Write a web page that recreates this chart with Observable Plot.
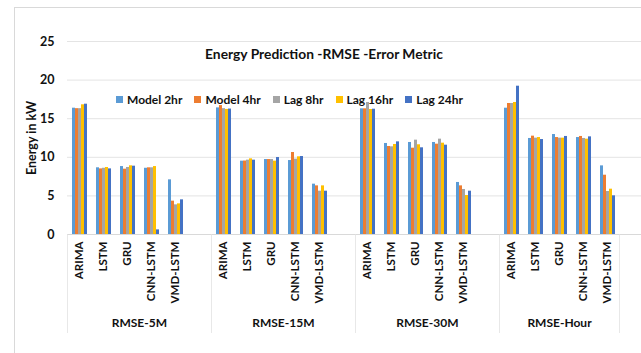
<!DOCTYPE html>
<html><head><meta charset="utf-8">
<script src="https://cdn.jsdelivr.net/npm/d3@7"></script>
<script src="https://cdn.jsdelivr.net/npm/@observablehq/plot@0.6"></script>
<style>
html,body{margin:0;padding:0;background:#fff;overflow:hidden}
#wrap{position:relative;width:641px;height:353px;overflow:hidden;font-family:Lato,sans-serif;background:#fff}
#border{position:absolute;left:14px;top:7px;width:700px;height:400px;border:1px solid #d9d9d9}
#chart{position:absolute;left:0;top:0}
#title{position:absolute;left:0;width:648px;top:45px;text-align:center;font-weight:bold;font-size:13.8px;color:#111;white-space:nowrap}
#legend{position:absolute;left:116px;top:92px}
.leg-swatches{font-family:Lato,sans-serif;font-weight:bold;font-size:12px;color:#111;display:flex;flex-wrap:nowrap;min-height:0;margin:0}
.leg-swatch{margin-right:12px !important;display:inline-flex;align-items:center}
.leg-swatch > svg{margin-right:4px !important}
</style></head>
<body>
<div id="wrap">
  <div id="border"></div>
  <div id="chart"></div>
  <div id="title">Energy Prediction -RMSE -Error Metric</div>
  <div id="legend"></div>
</div>
<script>
const groups = ["RMSE-5M", "RMSE-15M", "RMSE-30M", "RMSE-Hour"];
const models = ["ARIMA", "LSTM", "GRU", "CNN-LSTM", "VMD-LSTM"];
const series = ["Model 2hr", "Model 4hr", "Lag 8hr", "Lag 16hr", "Lag 24hr"];
const colors = ["#5B9BD5", "#ED7D31", "#A5A5A5", "#FFC000", "#4472C4"];
const yTicks = [0, 5, 10, 15, 20, 25];

// rows: models, columns: series
const rmse5M = [
  [16.36, 16.30, 16.30, 16.80, 16.88],
  [8.64, 8.50, 8.58, 8.68, 8.50],
  [8.80, 8.46, 8.68, 8.90, 8.85],
  [8.58, 8.64, 8.64, 8.80, 0.60],
  [7.08, 4.32, 3.84, 3.97, 4.49]
];
const rmse15M = [
  [16.40, 16.70, 16.30, 16.20, 16.25],
  [9.50, 9.52, 9.63, 9.80, 9.63],
  [9.71, 9.71, 9.71, 9.50, 9.97],
  [9.58, 10.62, 9.76, 10.06, 10.10],
  [6.52, 6.30, 5.61, 6.30, 5.61]
];
const rmse30M = [
  [16.28, 16.28, 17.10, 16.19, 16.23],
  [11.79, 11.40, 11.36, 11.66, 12.00],
  [11.92, 11.18, 12.22, 11.62, 11.23],
  [11.92, 11.70, 12.35, 11.83, 11.57],
  [6.74, 6.30, 5.83, 5.05, 5.61]
];
const rmseHour = [
  [16.36, 16.97, 16.97, 17.10, 19.21],
  [12.44, 12.74, 12.48, 12.56, 12.30],
  [12.95, 12.56, 12.48, 12.48, 12.70],
  [12.56, 12.70, 12.44, 12.35, 12.65],
  [8.89, 7.68, 5.57, 5.87, 5.01]
];
const tables = [rmse5M, rmse15M, rmse30M, rmseHour];

// slots (facets): 5 models per group, a blank slot between groups, and a trailing blank
const slots = [];
const blanks = [];
groups.forEach((g, gi) => {
  models.forEach(m => slots.push(g + "|" + m));
  if (gi < groups.length - 1) { slots.push(g + "|"); blanks.push(g + "|"); }
});
slots.push("end|"); blanks.push("end|");

const data = [];
groups.forEach((g, gi) => models.forEach((m, mi) => series.forEach((s, si) => {
  data.push({group: g, model: m, series: s, slot: g + "|" + m, value: tables[gi][mi][si]});
})));

const marginLeft = 64, marginTop = 41, marginBottom = 119;
const facetW = 24.25;
const width = Math.round(marginLeft + slots.length * facetW);
const height = 353;
const frameH = height - marginTop - marginBottom;

const dividers = groups.map(g => g + "|" + models[0]).concat(["end|"]);
const labelsMid = groups.filter((g, gi) => gi < groups.length - 1).map(g => ({group: g, slot: g + "|" + models[3]}));
const labelsLast = [{group: groups[3], slot: groups[3] + "|" + models[2]}];

const chart = Plot.plot({
  width, height,
  marginLeft, marginRight: 0, marginTop, marginBottom,
  style: {background: "transparent", maxWidth: "none", overflow: "visible", fontFamily: "Lato, sans-serif", color: "#111"},
  fx: {domain: slots, padding: 0, axis: null},
  x: {domain: series, paddingInner: 0.15, paddingOuter: 0.75, axis: null},
  y: {domain: [0, 25], axis: null},
  color: {domain: series, range: colors},
  marks: [
    Plot.gridY(yTicks, {stroke: "#e4e4e4", strokeOpacity: 1}),
    Plot.ruleY([0], {stroke: "#d9d9d9"}),
    // invisible placeholders so the blank slots count as non-empty facets
    Plot.dot(blanks, {fx: d => d, r: 0, stroke: null, fill: null}),
    Plot.barY(data, {fx: "slot", x: "series", y: "value", fill: "series"}),
    Plot.axisY({ticks: yTicks, tickSize: 0, tickPadding: 13, fontSize: 12.5, fontWeight: "bold",
      label: "Energy in kW", labelAnchor: "center", labelOffset: 40, labelArrow: "none"}),
    Plot.axisFx({anchor: "bottom", tickFormat: d => d.split("|")[1] || "", tickRotate: -90,
      tickSize: 0, tickPadding: 7, fontSize: 11.5, fontWeight: "bold", label: null}),
    Plot.rect(dividers, {fx: d => d, fill: "#e0e0e0", insetRight: facetW - 1, insetTop: frameH, insetBottom: -99}),
    Plot.text(labelsMid, {fx: "slot", text: "group", frameAnchor: "bottom", dy: 92, dx: -facetW / 2,
      fontSize: 12, fontWeight: "bold", fill: "#111"}),
    Plot.text(labelsLast, {fx: "slot", text: "group", frameAnchor: "bottom", dy: 92,
      fontSize: 12, fontWeight: "bold", fill: "#111"})
  ]
});
document.getElementById("chart").appendChild(chart);
const leg = chart.legend("color", {swatchSize: 7, className: "leg"});
document.getElementById("legend").appendChild(leg);
</script>
</body></html>
